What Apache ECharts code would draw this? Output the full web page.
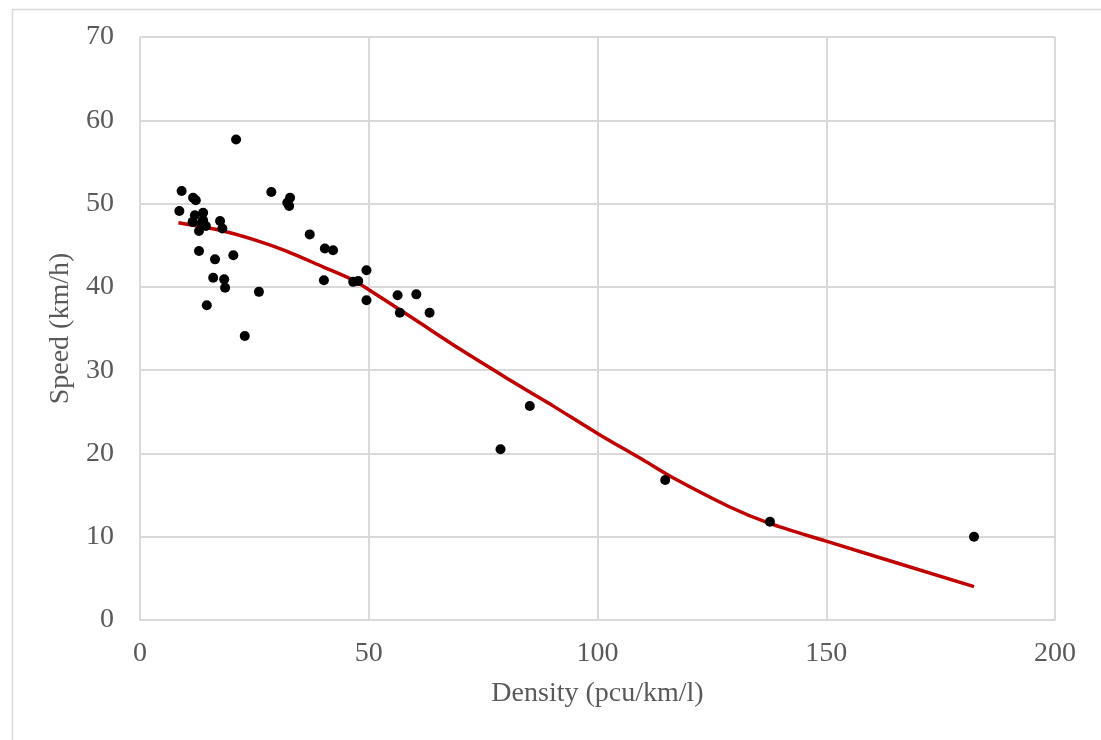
<!DOCTYPE html>
<html>
<head>
<meta charset="utf-8">
<script src="https://cdn.jsdelivr.net/npm/echarts@6/dist/echarts.min.js"></script>
<style>
html,body{margin:0;padding:0;background:#fff;}
#chart{width:1101px;height:740px;}
</style>
</head>
<body>
<div id="chart"></div>
<script>
// Observed data (density pcu/km/l, speed km/h)
const densityObs = [21.0, 9.1, 28.7, 11.6, 12.2, 8.6, 12.0, 13.8, 11.5, 13.8, 17.5, 18.0, 12.9, 14.4, 13.4,
  12.9, 16.4, 20.4, 16.0, 18.4, 18.6, 26.0, 14.6, 22.9, 32.8, 32.2, 32.6, 37.1, 40.4, 42.2,
  40.2, 49.5, 46.6, 47.7, 49.5, 56.3, 60.4, 56.8, 63.3, 78.8, 85.2, 114.8, 137.7, 182.3];
const speedObs = [57.7, 51.5, 51.4, 50.7, 50.4, 49.1, 48.6, 48.9, 47.8, 48.0, 47.9, 47.0, 46.7, 47.3, 47.6,
  44.3, 43.3, 43.8, 41.1, 40.9, 39.9, 39.4, 37.8, 34.1, 50.7, 50.1, 49.7, 46.3, 44.6, 44.4,
  40.8, 42.0, 40.6, 40.7, 38.4, 39.0, 39.1, 36.9, 36.9, 20.5, 25.7, 16.8, 11.8, 10.0];
// Fitted model curve
const densityFit = [8.4, 17.5, 24.7, 32.0, 40.0, 46.6, 50.2, 60.0, 70.0, 80.0, 90.0, 100.0, 110.0, 116.4, 128.8, 137.6, 149.8, 182.3];
const speedFit = [47.7, 46.8, 45.7, 44.3, 42.4, 40.8, 39.6, 36.1, 32.5, 29.1, 25.8, 22.4, 19.2, 17.1, 13.6, 11.6, 9.5, 4.0];
const xTicks = {min: 0, max: 200, interval: 50};
const yTicks = {min: 0, max: 70, interval: 10};
const xName = 'Density (pcu/km/l)';
const yName = 'Speed (km/h)';

const obs = densityObs.map((d, i) => [d, speedObs[i]]);
const fit = densityFit.map((d, i) => [d, speedFit[i]]);

const font = 'Liberation Serif';
const txtColor = '#595959';
const gridColor = '#d9d9d9';

const chart = echarts.init(document.getElementById('chart'), null, {renderer: 'canvas'});
chart.setOption({
  animation: false,
  backgroundColor: '#fff',
  graphic: [{
    type: 'rect', left: 10, top: 7, silent: true,
    shape: {width: 1100, height: 740},
    style: {fill: 'none', stroke: gridColor, lineWidth: 1.5}
  }],
  grid: {left: 140, right: 46, top: 37, bottom: 120, show: false},
  xAxis: {
    type: 'value', min: xTicks.min, max: xTicks.max, interval: xTicks.interval,
    name: xName, nameLocation: 'middle', nameGap: 60,
    nameTextStyle: {fontFamily: font, fontSize: 28, color: txtColor},
    axisLine: {show: true, lineStyle: {color: gridColor, width: 2}},
    axisTick: {show: false},
    axisLabel: {fontFamily: font, fontSize: 28, color: txtColor, margin: 20},
    splitLine: {show: true, lineStyle: {color: gridColor, width: 2}}
  },
  yAxis: {
    type: 'value', min: yTicks.min, max: yTicks.max, interval: yTicks.interval,
    name: yName, nameLocation: 'middle', nameGap: 64, nameRotate: 90,
    nameTextStyle: {fontFamily: font, fontSize: 28, color: txtColor},
    axisLine: {show: true, lineStyle: {color: gridColor, width: 2}},
    axisTick: {show: false},
    axisLabel: {fontFamily: font, fontSize: 28, color: txtColor, margin: 26},
    splitLine: {show: true, lineStyle: {color: gridColor, width: 2}}
  },
  series: [
    {
      type: 'line', data: fit, smooth: 0.3, showSymbol: false, z: 2,
      lineStyle: {color: '#c00000', width: 3.5}
    },
    {
      type: 'scatter', data: obs, symbol: 'circle', symbolSize: 10, z: 3,
      itemStyle: {color: '#000000', opacity: 1}
    }
  ]
});
</script>
</body>
</html>
